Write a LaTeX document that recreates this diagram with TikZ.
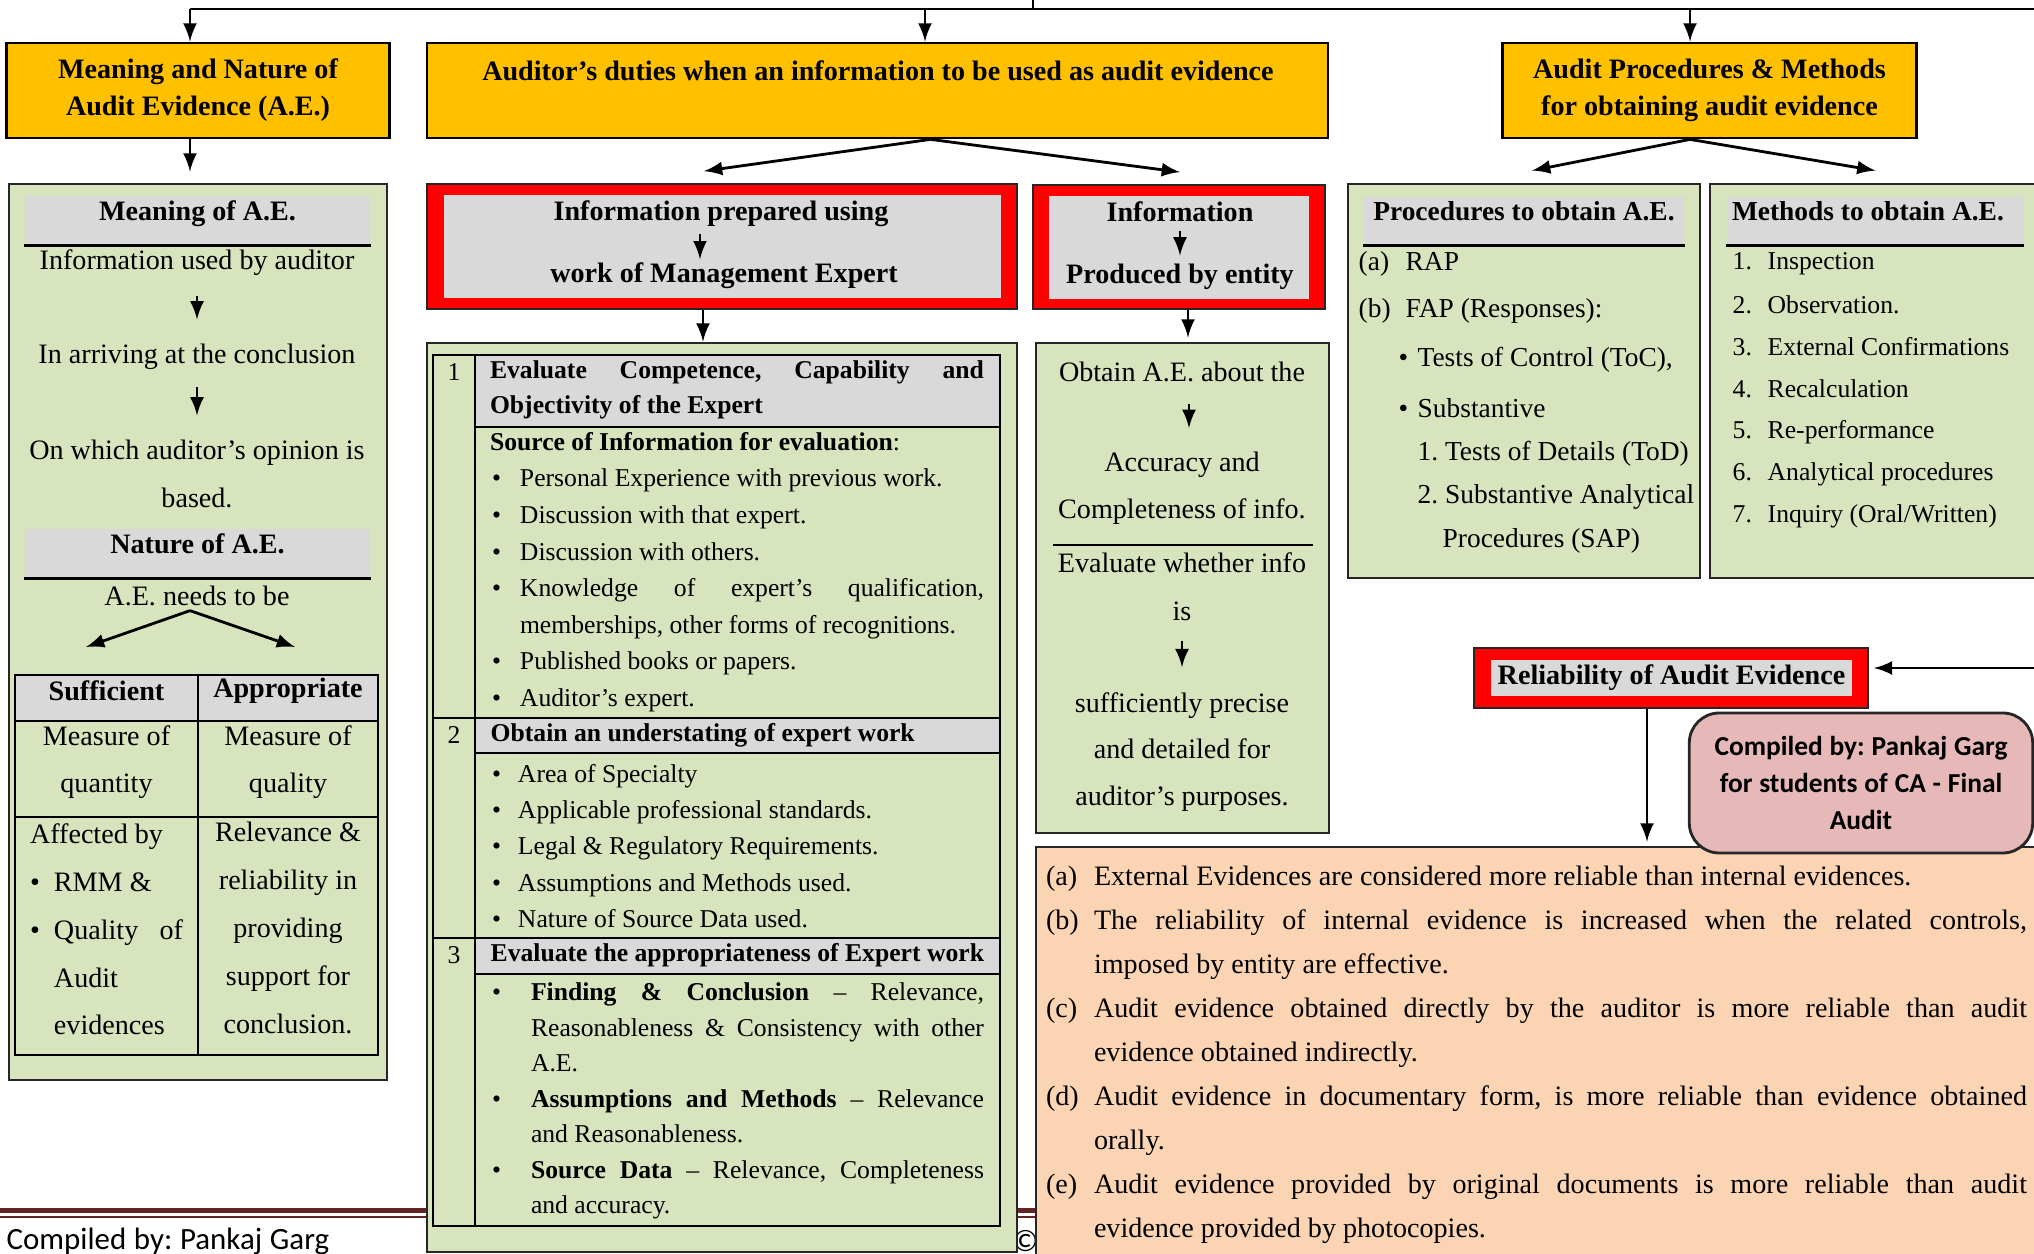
\documentclass[tikz,border=0pt]{standalone}
\usepackage{fontspec}
\setmainfont{Liberation Serif}
\newfontfamily\calibri{Carlito}
\usetikzlibrary{positioning}
\frenchspacing

\definecolor{hdrorange}{HTML}{FFC000}
\definecolor{boxgreen}{HTML}{D7E4BD}
\definecolor{hdrgray}{HTML}{D9D9D9}
\definecolor{framered}{HTML}{FF0000}
\definecolor{notepeach}{HTML}{FBD4B4}
\definecolor{notepink}{HTML}{E6B9B8}
\definecolor{footmaroon}{HTML}{632523}

\newcommand{\fsz}[2]{\fontsize{#1}{#2}\selectfont}
\newcommand{\bul}[1]{\makebox[#1][l]{\textbullet}}
\newcommand{\jus}[2]{{\spaceskip=0pt\xspaceskip=0pt\relax\makebox[#1][s]{#2}}}

\tikzset{
  every node/.append style={execute at begin node={\spaceskip=.25em\xspaceskip=.25em\relax}},
  topbox/.style={draw, line width=0.8pt, fill=hdrorange},
  greenbox/.style={draw=black!85, line width=0.8pt, fill=boxgreen},
  redframe/.style={draw=black!85, line width=0.5pt, fill=framered},
  graypanel/.style={fill=hdrgray, inner sep=0pt},
  panelhead/.style={text height=0.19cm, text depth=0.19cm},
  txt/.style={inner sep=0pt},
  rule/.style={line width=0.8pt},
  arr/.style={-latex, line width=0.8pt},
  sarr/.style={-latex, line width=0.8pt, shorten <=0.19cm, shorten >=0.24cm},
}

\begin{document}
\begin{tikzpicture}[x=1cm, y=-1cm]
\useasboundingbox (0,0) rectangle (20.34,12.54);
\clip (0,0) rectangle (20.34,12.54);

\draw[footmaroon, line width=1.4pt] (0,12.105) -- (10.4,12.105);
\draw[footmaroon, line width=0.5pt] (0,12.17) -- (10.4,12.17);
\node[txt, anchor=west, font=\calibri\fsz{8.8}{10}] (footer) at (0.06,12.41) {Compiled by: Pankaj Garg};
\node[txt, anchor=west, font=\calibri\fsz{8.8}{10}] (footcopy) at (10.12,12.41) {©V};

\coordinate (topin) at (10.33,0);
\coordinate (topleft) at (1.90,0.09);
\coordinate (topright) at (20.40,0.09);
\draw[rule] (topin) -- (topin |- topleft);
\draw[rule] (topleft) -- (topright);

\node[topbox, minimum width=3.78cm, minimum height=0.95cm, text width=3.6cm, align=center, font=\bfseries\fsz{8}{10.5}] (meaningbox) at (1.98,0.905) {Meaning and Nature of\\Audit Evidence (A.E.)};
\node[topbox, minimum width=9.01cm, minimum height=0.95cm] (dutiesbox) at (8.775,0.905) {};
\node[txt, font=\bfseries\fsz{8}{10}] (dutiestext) at (8.78,0.71) {Auditor’s duties when an information to be used as audit evidence};
\node[topbox, minimum width=4.05cm, minimum height=0.95cm, text width=3.9cm, align=center, font=\bfseries\fsz{8}{10.5}] (procbox) at (17.095,0.905) {Audit Procedures \& Methods\\for obtaining audit evidence};

\draw[arr] (topleft) -- (topleft |- meaningbox.north);
\draw[arr] ([xshift=0.475cm]dutiesbox.north |- topleft) -- ([xshift=0.475cm]dutiesbox.north);
\draw[arr] ([xshift=-0.195cm]procbox.north |- topleft) -- ([xshift=-0.195cm]procbox.north);

\node[greenbox, minimum width=3.78cm, minimum height=8.96cm] (meaningbody) at (1.98,6.32) {};
\draw[arr] ([xshift=-0.08cm]meaningbox.south) -- ([xshift=-0.08cm,yshift=0.11cm]meaningbody.north);
\node[graypanel, panelhead, minimum width=3.45cm, minimum height=0.49cm, font=\bfseries\fsz{8}{10}] (meanhead) at (1.975,2.205) {Meaning of A.E.};
\draw[rule] (meanhead.south west) -- (meanhead.south east);
\node[txt, font=\fsz{8}{10}] (mean1) at (1.97,2.63) {Information used by auditor};
\node[txt, font=\fsz{8}{10}] (mean2) at (1.97,3.57) {In arriving at the conclusion};
\node[txt, text width=3.6cm, align=center, font=\fsz{8}{13.6}] (mean3) at (1.97,4.74) {On which auditor’s opinion is\\based.};
\draw[sarr] (mean1) -- (mean2);
\draw[sarr, shorten <=0.17cm] (mean2) -- (mean3);
\node[graypanel, panelhead, minimum width=3.45cm, minimum height=0.49cm, font=\bfseries\fsz{8}{10}] (naturehead) at (1.975,5.535) {Nature of A.E.};
\draw[rule] (naturehead.south west) -- (naturehead.south east);
\node[txt, font=\fsz{8}{10}] (needs) at (1.97,5.96) {A.E. needs to be};
\coordinate (suffarrow) at (0.86,6.47);
\coordinate (apprarrow) at (2.95,6.47);
\draw[arr] ([xshift=-0.07cm,yshift=-0.04cm]needs.south) -- (suffarrow);
\draw[arr] ([xshift=-0.07cm,yshift=-0.04cm]needs.south) -- (apprarrow);

\fill[hdrgray] (0.15,6.75) rectangle (3.78,7.21);
\draw[rule] (0.15,6.75) rectangle (3.78,10.55);
\draw[rule] (1.98,6.75) -- (1.98,10.55);
\draw[rule] (0.15,7.21) -- (3.78,7.21);
\draw[rule] (0.15,8.17) -- (3.78,8.17);
\node[txt, font=\bfseries\fsz{8}{10}] (suff) at (1.065,6.91) {Sufficient};
\node[txt, font=\bfseries\fsz{8}{10}] (appr) at (2.88,6.91) {Appropriate};
\node[txt, text width=1.75cm, align=center, font=\fsz{8}{13.4}] (quantity) at (1.065,7.625) {Measure of\\quantity};
\node[txt, text width=1.75cm, align=center, font=\fsz{8}{13.4}] (quality) at (2.88,7.625) {Measure of\\quality};
\node[txt, align=left, text width=1.6cm, font=\fsz{8}{13.6}] (affected) at (1.10,9.295) {Affected by\\
  \bul{0.24cm}RMM \&\\
  \bul{0.24cm}\jus{1.29cm}{Quality of}\\
  \hspace*{0.24cm}Audit\\
  \hspace*{0.24cm}evidences};
\node[txt, text width=1.75cm, align=center, font=\fsz{8}{13.6}] (relevance) at (2.88,9.28) {Relevance \&\\reliability in\\providing\\support for\\conclusion.};

\node[redframe, minimum width=5.90cm, minimum height=1.25cm] (expertbox) at (7.22,2.465) {};
\node[graypanel, minimum width=5.57cm, minimum height=1.03cm] (expertpanel) at (7.225,2.465) {};
\node[txt, font=\bfseries\fsz{8}{10}] (expert1) at (7.21,2.14) {Information prepared using};
\node[txt, font=\bfseries\fsz{8}{10}] (expert2) at (7.24,2.76) {work of Management Expert};
\draw[arr, shorten <=0.06cm, shorten >=0.03cm] ([xshift=-0.21cm]expert1.south) -- ([xshift=-0.24cm]expert2.north);

\node[redframe, minimum width=2.92cm, minimum height=1.24cm] (entitybox) at (11.79,2.47) {};
\node[graypanel, minimum width=2.60cm, minimum height=1.03cm] (entitypanel) at (11.79,2.475) {};
\node[txt, font=\bfseries\fsz{8}{10}] (entity1) at (11.80,2.12) {Information};
\node[txt, font=\bfseries\fsz{8}{10}] (entity2) at (11.80,2.77) {Produced by entity};
\draw[arr, shorten <=0.08cm, shorten >=0.08cm] (entity1) -- (entity2);

\draw[arr] ([xshift=0.53cm]dutiesbox.south) -- ([xshift=-0.18cm,yshift=0.12cm]expertbox.north);
\draw[arr] ([xshift=0.53cm]dutiesbox.south) -- ([xshift=0.01cm,yshift=0.12cm]entitybox.north);

\node[greenbox, minimum width=5.90cm, minimum height=9.09cm] (expertbody) at (7.22,7.975) {};
\draw[arr] ([xshift=-0.19cm]expertbox.south) -- ([xshift=-0.19cm]expertbody.north);
\fill[hdrgray] (4.75,3.55) rectangle (10.00,4.27);
\fill[hdrgray] (4.75,7.18) rectangle (10.00,7.53);
\fill[hdrgray] (4.75,9.38) rectangle (10.00,9.74);
\draw[rule] (4.33,3.55) rectangle (10.00,12.26);
\draw[rule] (4.75,3.55) -- (4.75,12.26);
\draw[rule] (4.75,4.27) -- (10.00,4.27);
\draw[rule] (4.33,7.18) -- (10.00,7.18);
\draw[rule] (4.75,7.53) -- (10.00,7.53);
\draw[rule] (4.33,9.38) -- (10.00,9.38);
\draw[rule] (4.75,9.74) -- (10.00,9.74);
\node[txt, font=\fsz{7.3}{10}] (num1) at (4.54,3.72) {1};
\node[txt, font=\fsz{7.3}{10}] (num2) at (4.54,7.35) {2};
\node[txt, font=\fsz{7.3}{10}] (num3) at (4.54,9.55) {3};
\node[txt, align=left, text width=4.95cm, font=\bfseries\fsz{7.3}{10}] (competence) at (7.375,3.895) {\jus{4.94cm}{Evaluate Competence, Capability and}\\Objectivity of the Expert};
\node[txt, align=left, text width=4.95cm, font=\fsz{7.3}{10.4}] (sources) at (7.375,5.72) {\textbf{Source of Information for evaluation}:\\
  \hspace*{0.02cm}\bul{0.28cm}Personal Experience with previous work.\\
  \hspace*{0.02cm}\bul{0.28cm}Discussion with that expert.\\
  \hspace*{0.02cm}\bul{0.28cm}Discussion with others.\\
  \hspace*{0.02cm}\bul{0.28cm}\jus{4.64cm}{Knowledge of expert’s qualification,}\\
  \hspace*{0.30cm}memberships, other forms of recognitions.\\
  \hspace*{0.02cm}\bul{0.28cm}Published books or papers.\\
  \hspace*{0.02cm}\bul{0.28cm}Auditor’s expert.};
\node[txt, anchor=west, font=\bfseries\fsz{7.3}{10}] (understand) at (4.90,7.35) {Obtain an understating of expert work};
\node[txt, align=left, text width=4.95cm, font=\fsz{7.3}{10.3}] (specialty) at (7.375,8.46) {\hspace*{0.02cm}\bul{0.26cm}Area of Specialty\\
  \hspace*{0.02cm}\bul{0.26cm}Applicable professional standards.\\
  \hspace*{0.02cm}\bul{0.26cm}Legal \& Regulatory Requirements.\\
  \hspace*{0.02cm}\bul{0.26cm}Assumptions and Methods used.\\
  \hspace*{0.02cm}\bul{0.26cm}Nature of Source Data used.};
\node[txt, anchor=west, font=\bfseries\fsz{7.3}{10}] (appropriate) at (4.90,9.555) {Evaluate the appropriateness of Expert work};
\node[txt, align=left, text width=4.95cm, font=\fsz{7.3}{10.1}] (findings) at (7.375,11.01) {\hspace*{0.02cm}\bul{0.39cm}\jus{4.53cm}{\textbf{Finding \& Conclusion} -- Relevance,}\\
  \hspace*{0.41cm}\jus{4.53cm}{Reasonableness \& Consistency with other}\\
  \hspace*{0.41cm}A.E.\\
  \hspace*{0.02cm}\bul{0.39cm}\jus{4.53cm}{\textbf{Assumptions and Methods} -- Relevance}\\
  \hspace*{0.41cm}and Reasonableness.\\
  \hspace*{0.02cm}\bul{0.39cm}\jus{4.53cm}{\textbf{Source Data} -- Relevance, Completeness}\\
  \hspace*{0.41cm}and accuracy.};

\node[greenbox, minimum width=2.93cm, minimum height=4.90cm] (entitybody) at (11.825,5.88) {};
\draw[arr] ([xshift=0.09cm]entitybox.south) -- ([xshift=0.055cm,yshift=0.04cm]entitybody.north);
\node[txt, font=\fsz{8}{10}] (obtain) at (11.82,3.72) {Obtain A.E. about the};
\node[txt, text width=2.8cm, align=center, font=\fsz{8}{13.4}] (complete) at (11.82,4.885) {Accuracy and\\Completeness of info.};
\draw[sarr, shorten <=0.215cm, shorten >=0.235cm] ([xshift=0.07cm]obtain.south) -- ([xshift=0.07cm]complete.north);
\draw[rule] (10.53,5.45) -- (13.13,5.45);
\node[txt, text width=2.8cm, align=center, font=\fsz{8}{13.6}] (whether) at (11.82,5.87) {Evaluate whether info\\is};
\node[txt, text width=2.8cm, align=center, font=\fsz{8}{13.3}] (precise) at (11.82,7.52) {sufficiently precise\\and detailed for\\auditor’s purposes.};
\draw[sarr, shorten <=0.19cm, shorten >=0.245cm] (whether) -- (precise);

\node[greenbox, minimum width=3.52cm, minimum height=3.94cm] (procedures) at (15.24,3.81) {};
\node[graypanel, panelhead, minimum width=3.20cm, minimum height=0.48cm, font=\bfseries\fsz{7.8}{10}] (prochead) at (15.24,2.21) {Procedures to obtain A.E.};
\draw[rule] (prochead.south west) -- (prochead.south east);
\node[txt, anchor=west, font=\fsz{7.8}{10}] (rap) at (13.58,2.64) {\makebox[0.47cm][l]{(a)}RAP};
\node[txt, anchor=west, font=\fsz{7.8}{10}] (fap) at (13.58,3.11) {\makebox[0.47cm][l]{(b)}FAP (Responses):};
\node[txt, anchor=west, font=\fsz{7.8}{10}] (toc) at (13.98,3.60) {\bul{0.19cm}Tests of Control (ToC),};
\node[txt, anchor=west, font=\fsz{7.8}{10}] (subst) at (13.98,4.08) {\bul{0.19cm}Substantive};
\node[txt, anchor=west, font=\fsz{7.8}{10}] (tod) at (14.17,4.54) {1. Tests of Details (ToD)};
\node[txt, anchor=west, font=\fsz{7.8}{10}] (sap1) at (14.17,4.97) {2. Substantive Analytical};
\node[txt, anchor=west, font=\fsz{7.8}{10}] (sap2) at (14.42,5.41) {Procedures (SAP)};

\node[greenbox, minimum width=3.35cm, minimum height=3.94cm] (methods) at (18.775,3.81) {};
\node[graypanel, panelhead, minimum height=0.48cm, text width=2.86cm, inner xsep=0.05cm, align=left, font=\bfseries\fsz{7.8}{10}] (methhead) at (18.75,2.21) {Methods to obtain A.E.};
\draw[rule] (methhead.south west) -- (methhead.south east);
\node[txt, anchor=west, font=\fsz{7.3}{10}] (meth1) at (17.32,2.64) {\makebox[0.35cm][l]{1.}Inspection};
\node[txt, anchor=west, font=\fsz{7.3}{10}] (meth2) at (17.32,3.05) {\makebox[0.35cm][l]{2.}Observation.};
\node[txt, anchor=west, font=\fsz{7.3}{10}] (meth3) at (17.32,3.47) {\makebox[0.35cm][l]{3.}External Confirmations};
\node[txt, anchor=west, font=\fsz{7.3}{10}] (meth4) at (17.32,3.89) {\makebox[0.35cm][l]{4.}Recalculation};
\node[txt, anchor=west, font=\fsz{7.3}{10}] (meth5) at (17.32,4.32) {\makebox[0.35cm][l]{5.}Re-performance};
\node[txt, anchor=west, font=\fsz{7.3}{10}] (meth6) at (17.32,4.74) {\makebox[0.35cm][l]{6.}Analytical procedures};
\node[txt, anchor=west, font=\fsz{7.3}{10}] (meth7) at (17.32,5.16) {\makebox[0.35cm][l]{7.}Inquiry (Oral/Written)};

\draw[arr] ([xshift=-0.195cm]procbox.south) -- ([xshift=0.08cm,yshift=0.12cm]procedures.north);
\draw[arr] ([xshift=-0.195cm]procbox.south) -- ([xshift=-0.02cm,yshift=0.12cm]methods.north);

\node[draw=black!85, line width=0.8pt, fill=notepeach, minimum width=10.24cm, minimum height=4.13cm] (reliabbody) at (15.48,10.535) {};
\node[txt, align=left, text width=9.81cm, font=\fsz{8}{12.5}] (points) at (15.365,10.55) {\makebox[0.48cm][l]{(a)}External Evidences are considered more reliable than internal evidences.\\
  \makebox[0.48cm][l]{(b)}\jus{9.33cm}{The reliability of internal evidence is increased when the related controls,}\\
  \hspace*{0.48cm}imposed by entity are effective.\\
  \makebox[0.48cm][l]{(c)}\jus{9.33cm}{Audit evidence obtained directly by the auditor is more reliable than audit}\\
  \hspace*{0.48cm}evidence obtained indirectly.\\
  \makebox[0.48cm][l]{(d)}\jus{9.33cm}{Audit evidence in documentary form, is more reliable than evidence obtained}\\
  \hspace*{0.48cm}orally.\\
  \makebox[0.48cm][l]{(e)}\jus{9.33cm}{Audit evidence provided by original documents is more reliable than audit}\\
  \hspace*{0.48cm}evidence provided by photocopies.};

\node[redframe, minimum width=3.94cm, minimum height=0.60cm] (reliabbox) at (16.71,6.78) {};
\node[graypanel, minimum width=3.61cm, minimum height=0.36cm, font=\bfseries\fsz{8}{10}] (reliabtext) at (16.715,6.78) {Reliability of Audit Evidence};
\coordinate (reliabin) at (20.40,6.68);
\draw[arr] (reliabin) -- ([xshift=0.05cm,yshift=0.10cm]reliabbox.east);
\draw[arr] ([xshift=-0.24cm]reliabbox.south) -- ([xshift=-0.24cm,yshift=0.04cm]reliabbox.south |- reliabbody.north);

\node[draw=black!85, line width=0.8pt, fill=notepink, rounded corners=0.3cm, minimum width=3.42cm, minimum height=1.40cm, text width=3.2cm, align=center, font=\calibri\bfseries\fsz{7.8}{10.4}] (compiled) at (18.61,7.83) {Compiled by: Pankaj Garg\\for students of CA - Final\\Audit};
\end{tikzpicture}
\end{document}
